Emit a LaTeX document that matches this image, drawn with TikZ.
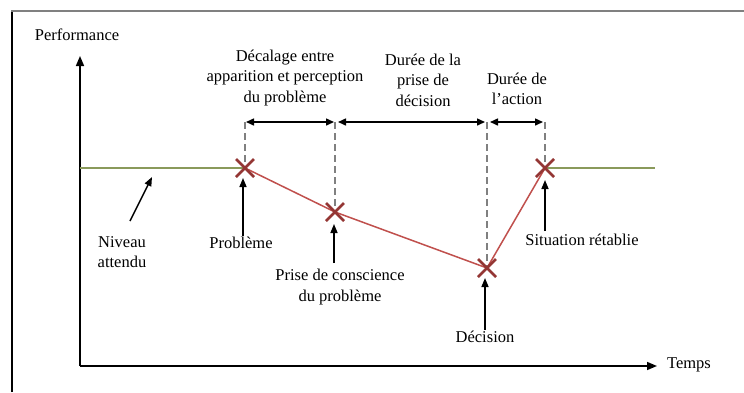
\documentclass[tikz,border=0pt]{standalone}
\usepackage{fontspec}
\setmainfont{Liberation Serif}
\usetikzlibrary{arrows.meta,positioning,calc}

\definecolor{levelgreen}{HTML}{8A9A5B}
\definecolor{trendred}{HTML}{C0504D}
\definecolor{crossred}{HTML}{943634}

\tikzset{
  lbl/.style={align=center, font=\fontsize{16.5}{20.5}\selectfont, inner sep=1pt},
  pointer/.style={line width=1.5pt, -{Triangle[length=9pt,width=7pt]}},
  span/.style={line width=1.5pt, {Triangle[length=8pt,width=7pt]}-{Triangle[length=8pt,width=7pt]}},
  guide/.style={gray, line width=1.4pt, dash pattern=on 7pt off 4pt},
  mark cross/.style={crossred, line width=2.8pt}
}

\newcommand{\crossat}[1]{%
  \draw[mark cross] ($(#1)+(-9,-9)$) -- ($(#1)+(9,9)$);
  \draw[mark cross] ($(#1)+(-9,9)$) -- ($(#1)+(9,-9)$);
}

\begin{document}
\begin{tikzpicture}[x=1pt, y=-1pt, >=Stealth]
   \useasboundingbox (0,0) rectangle (744,392);

   % frame
   \draw[black, line width=1.3pt] (12,392) -- (12,11);
   \draw[gray, line width=2.4pt] (11,11) -- (744,11);

   % axes
   \coordinate (origin) at (80,366);
   \coordinate (ytop) at (80,56);
   \coordinate (xend) at (657,366);
   \draw[line width=1.6pt, -{Triangle[length=10pt,width=8pt]}] (origin) -- (ytop);
   \draw[line width=1.6pt, -{Triangle[length=10pt,width=8pt]}] (origin) -- (xend);
   \node[lbl] (perf) at (77,35) {Performance};
   \node[lbl] (temps) at (689,365) {Temps};

   % key points
   \coordinate (pb) at (245,168);
   \coordinate (pc) at (335,212);
   \coordinate (dc) at (487,268);
   \coordinate (sr) at (545,168);
   \coordinate (lvlstart) at (80,168);
   \coordinate (lvlend) at (655,168);

   % expected level and performance
   \draw[levelgreen, line width=2.2pt] (lvlstart) -- (pb);
   \draw[levelgreen, line width=2.2pt] (sr) -- (lvlend);
   \draw[trendred, line width=1.5pt] (pb) -- (pc) -- (dc) -- (sr);

   % guides up to the spans
   \coordinate (pbtop) at (245,122);
   \coordinate (pctop) at (335,122);
   \coordinate (dctop) at (487,122);
   \coordinate (srtop) at (545,122);
   \draw[guide] (pbtop) -- (pb);
   \draw[guide] (pctop) -- (pc);
   \draw[guide] (dctop) -- (dc);
   \draw[guide] (srtop) -- (sr);

   \draw[span] ($(pbtop)+(1,0)$) -- ($(pctop)+(-1,0)$);
   \draw[span] ($(pctop)+(3,0)$) -- ($(dctop)+(-2,0)$);
   \draw[span] ($(dctop)+(3,0)$) -- ($(srtop)+(-2,0)$);

   \crossat{pb}
   \crossat{pc}
   \crossat{dc}
   \crossat{sr}

   % span labels
   \node[lbl] (lag) at (285,78) {Décalage entre\\apparition et perception\\du problème};
   \node[lbl] (decdur) at (423,80) {Durée de la\\prise de\\décision};
   \node[lbl] (actdur) at (517,89) {Durée de\\l’action};

   % point labels
   \node[lbl] (niveau) at (122,252) {Niveau\\attendu};
   \node[lbl] (probleme) at (241,243) {Problème};
   \node[lbl] (prise) at (340,287) {Prise de conscience\\du problème};
   \node[lbl] (decision) at (485,337) {Décision};
   \node[lbl] (retablie) at (582,240) {Situation rétablie};

   \coordinate (niveautip) at (152,177);
   \draw[pointer] (130,221) -- (niveautip);
   \draw[pointer] (probleme.north -| pb) ++(-2,0) -- ($(pb)+(-2,10)$);
   \draw[pointer] ($(prise.north)+(-6,-5)$) -- ($(pc)+(-1,12)$);
   \draw[pointer] (decision.north) -- ($(dc)+(-2,10)$);
   \draw[pointer] ($(sr)+(0,63)$) -- ($(sr)+(0,12)$);
\end{tikzpicture}
\end{document}
